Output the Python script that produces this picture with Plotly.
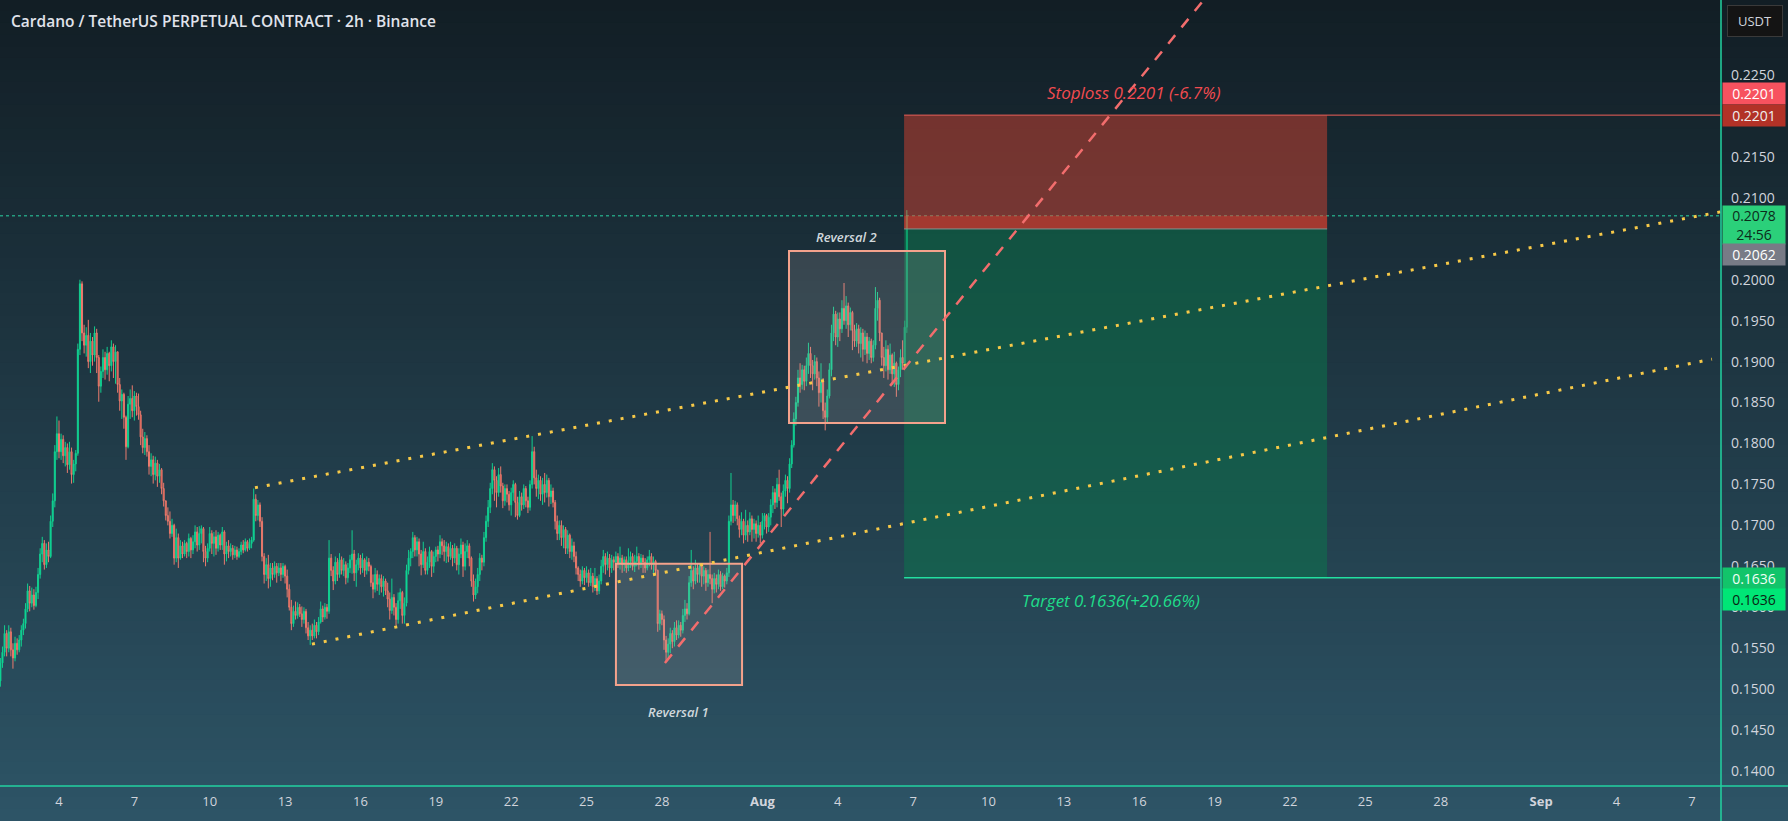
import pandas as pd
import plotly.graph_objects as go

# ADAUSDT perp, 2h candles (prices in 1e-4 USDT)
start = "2023-07-01 16:00"
first_open = 1510
close = [
    1532, 1545, 1568, 1550, 1570, 1548, 1538, 1556, 1548, 1560,
    1572, 1580, 1598, 1620, 1605, 1615, 1602, 1618, 1640, 1665,
    1678, 1652, 1670, 1662, 1705, 1730, 1790, 1812, 1790, 1805,
    1785, 1795, 1774, 1790, 1762, 1775, 1788, 1915, 1995, 1935,
    1920, 1932, 1900, 1925, 1908, 1935, 1905, 1870, 1888, 1905,
    1890, 1910, 1895, 1918, 1900, 1912, 1872, 1852, 1860, 1832,
    1796, 1848, 1855, 1840, 1858, 1845, 1835, 1808, 1795, 1806,
    1790, 1772, 1780, 1762, 1776, 1760, 1768, 1745, 1730, 1712,
    1705, 1690, 1700, 1660, 1685, 1660, 1675, 1665, 1678, 1668,
    1684, 1670, 1680, 1692, 1676, 1690, 1696, 1668, 1660, 1672,
    1690, 1678, 1686, 1672, 1688, 1676, 1692, 1665, 1675, 1668,
    1672, 1664, 1670, 1662, 1668, 1676, 1670, 1680, 1672, 1678,
    1682, 1732, 1712, 1725, 1705, 1662, 1640, 1652, 1635, 1648,
    1640, 1650, 1642, 1648, 1640, 1650, 1638, 1622, 1600, 1580,
    1595, 1590, 1600, 1592, 1585, 1595, 1575, 1565, 1572, 1565,
    1578, 1570, 1582, 1598, 1588, 1600, 1595, 1660, 1645, 1632,
    1655, 1640, 1658, 1645, 1652, 1636, 1648, 1658, 1665, 1642,
    1652, 1660, 1648, 1658, 1645, 1655, 1650, 1630, 1622, 1640,
    1628, 1635, 1625, 1632, 1620, 1610, 1596, 1612, 1600, 1585,
    1608, 1618, 1590, 1605, 1645, 1660, 1668, 1685, 1670, 1680,
    1665, 1652, 1668, 1645, 1655, 1668, 1650, 1662, 1670, 1665,
    1680, 1675, 1668, 1674, 1662, 1672, 1660, 1672, 1652, 1665,
    1676, 1650, 1668, 1675, 1660, 1632, 1615, 1625, 1640, 1660,
    1655, 1685, 1705, 1722, 1745, 1768, 1755, 1740, 1762, 1748,
    1730, 1745, 1738, 1725, 1740, 1750, 1728, 1712, 1735, 1725,
    1745, 1730, 1722, 1750, 1790, 1758, 1745, 1755, 1738, 1750,
    1740, 1755, 1735, 1742, 1728, 1705, 1690, 1700, 1685, 1695,
    1672, 1688, 1668, 1675, 1662, 1648, 1640, 1632, 1645, 1636,
    1642, 1630, 1638, 1625, 1635, 1620, 1632, 1650, 1662, 1652,
    1660, 1648, 1658, 1655, 1662, 1654, 1660, 1652, 1658, 1648,
    1656, 1662, 1650, 1656, 1662, 1652, 1660, 1655, 1648, 1658,
    1662, 1652, 1656, 1645, 1580, 1592, 1585, 1560, 1545, 1555,
    1568, 1558, 1575, 1566, 1578, 1572, 1590, 1598, 1592, 1630,
    1645, 1632, 1648, 1640, 1650, 1638, 1645, 1630, 1640, 1635,
    1622, 1635, 1628, 1640, 1625, 1638, 1632, 1642, 1705, 1725,
    1712, 1725, 1708, 1695, 1705, 1688, 1700, 1692, 1708, 1695,
    1702, 1690, 1700, 1688, 1705, 1712, 1698, 1710, 1725, 1740,
    1728, 1750, 1735, 1720, 1742, 1755, 1745, 1775, 1798, 1830,
    1850, 1880, 1872, 1890, 1876, 1895, 1910, 1895, 1885, 1900,
    1880, 1862, 1875, 1840, 1832, 1858, 1890, 1935, 1958, 1930,
    1952, 1940, 1965, 1950, 1968, 1945, 1960, 1938, 1925, 1940,
    1922, 1935, 1915, 1930, 1910, 1925, 1905, 1920, 1965, 1975,
    1935, 1905, 1895, 1915, 1890, 1908, 1885, 1898, 1872, 1890,
    1905, 1898, 1942, 2078,
]
high = [
    1538, 1552, 1578, 1572, 1578, 1575, 1556, 1564, 1562, 1566,
    1578, 1586, 1605, 1629, 1626, 1624, 1622, 1625, 1648, 1672,
    1686, 1682, 1678, 1680, 1712, 1739, 1798, 1833, 1828, 1812,
    1810, 1802, 1800, 1802, 1795, 1780, 1792, 1922, 2000, 1998,
    1945, 1942, 1951, 1935, 1930, 1943, 1940, 1908, 1894, 1915,
    1912, 1918, 1912, 1926, 1922, 1920, 1912, 1880, 1866, 1862,
    1834, 1858, 1866, 1871, 1864, 1862, 1861, 1840, 1818, 1814,
    1810, 1798, 1788, 1785, 1784, 1780, 1775, 1770, 1752, 1729,
    1722, 1717, 1708, 1702, 1696, 1690, 1682, 1680, 1682, 1680,
    1690, 1686, 1688, 1700, 1698, 1699, 1700, 1698, 1675, 1678,
    1698, 1694, 1692, 1694, 1692, 1690, 1698, 1694, 1680, 1682,
    1678, 1676, 1675, 1674, 1672, 1680, 1682, 1684, 1682, 1684,
    1686, 1745, 1738, 1731, 1728, 1710, 1666, 1660, 1664, 1654,
    1654, 1656, 1654, 1654, 1654, 1654, 1652, 1646, 1628, 1609,
    1602, 1607, 1606, 1604, 1601, 1600, 1598, 1582, 1578, 1580,
    1585, 1582, 1588, 1607, 1602, 1605, 1604, 1682, 1665, 1650,
    1662, 1660, 1666, 1662, 1660, 1656, 1654, 1664, 1694, 1670,
    1658, 1666, 1664, 1666, 1660, 1662, 1660, 1652, 1640, 1648,
    1645, 1640, 1640, 1638, 1635, 1630, 1618, 1635, 1616, 1605,
    1618, 1623, 1620, 1612, 1652, 1670, 1672, 1692, 1688, 1686,
    1684, 1670, 1680, 1672, 1662, 1674, 1670, 1668, 1674, 1675,
    1688, 1684, 1682, 1680, 1678, 1680, 1676, 1678, 1675, 1672,
    1684, 1680, 1678, 1682, 1678, 1662, 1640, 1635, 1648, 1666,
    1664, 1692, 1712, 1731, 1752, 1776, 1772, 1760, 1770, 1772,
    1752, 1750, 1750, 1742, 1746, 1755, 1752, 1735, 1742, 1740,
    1750, 1748, 1735, 1755, 1809, 1796, 1768, 1762, 1760, 1758,
    1764, 1762, 1758, 1750, 1746, 1731, 1712, 1706, 1706, 1700,
    1698, 1694, 1690, 1684, 1680, 1668, 1650, 1646, 1650, 1648,
    1650, 1646, 1648, 1642, 1648, 1638, 1640, 1658, 1670, 1666,
    1668, 1665, 1664, 1662, 1668, 1666, 1674, 1664, 1662, 1662,
    1672, 1668, 1666, 1664, 1674, 1666, 1665, 1664, 1660, 1662,
    1670, 1666, 1662, 1658, 1646, 1597, 1596, 1590, 1565, 1562,
    1575, 1572, 1582, 1584, 1584, 1582, 1598, 1609, 1605, 1638,
    1670, 1650, 1658, 1654, 1654, 1652, 1650, 1648, 1646, 1692,
    1640, 1642, 1640, 1646, 1644, 1642, 1640, 1648, 1712, 1764,
    1731, 1730, 1728, 1712, 1716, 1708, 1719, 1706, 1716, 1712,
    1708, 1706, 1712, 1704, 1715, 1715, 1714, 1715, 1732, 1748,
    1745, 1758, 1768, 1740, 1750, 1762, 1760, 1782, 1804, 1838,
    1857, 1890, 1898, 1896, 1895, 1905, 1923, 1918, 1902, 1908,
    1905, 1888, 1898, 1880, 1850, 1866, 1898, 1945, 1967, 1962,
    1960, 1960, 1975, 1996, 1980, 1972, 1966, 1962, 1945, 1947,
    1945, 1942, 1940, 1938, 1935, 1930, 1928, 1926, 1991, 1985,
    1978, 1935, 1918, 1926, 1920, 1922, 1910, 1912, 1900, 1894,
    1915, 1926, 1950, 2085,
]
low = [
    1503, 1526, 1540, 1540, 1545, 1540, 1525, 1534, 1542, 1545,
    1552, 1566, 1574, 1594, 1595, 1600, 1597, 1600, 1610, 1635,
    1655, 1646, 1648, 1655, 1660, 1698, 1722, 1780, 1782, 1780,
    1776, 1772, 1764, 1768, 1751, 1752, 1766, 1785, 1908, 1925,
    1910, 1906, 1892, 1886, 1895, 1900, 1886, 1851, 1862, 1880,
    1878, 1884, 1876, 1888, 1880, 1873, 1862, 1840, 1830, 1818,
    1780, 1794, 1830, 1832, 1828, 1834, 1829, 1798, 1788, 1786,
    1784, 1762, 1760, 1751, 1755, 1747, 1752, 1738, 1723, 1706,
    1700, 1684, 1686, 1652, 1655, 1648, 1658, 1660, 1662, 1660,
    1662, 1660, 1665, 1672, 1668, 1670, 1678, 1655, 1650, 1655,
    1668, 1665, 1662, 1664, 1668, 1670, 1670, 1652, 1656, 1660,
    1662, 1658, 1660, 1658, 1660, 1664, 1666, 1668, 1668, 1670,
    1672, 1680, 1705, 1706, 1698, 1656, 1629, 1632, 1623, 1625,
    1633, 1636, 1630, 1638, 1632, 1636, 1629, 1612, 1596, 1572,
    1576, 1585, 1586, 1588, 1576, 1580, 1568, 1560, 1554, 1560,
    1562, 1562, 1566, 1580, 1582, 1585, 1586, 1592, 1638, 1621,
    1628, 1632, 1636, 1640, 1638, 1628, 1630, 1642, 1641, 1632,
    1625, 1645, 1640, 1642, 1637, 1640, 1644, 1625, 1611, 1618,
    1620, 1615, 1618, 1613, 1615, 1600, 1585, 1592, 1590, 1578,
    1580, 1598, 1580, 1580, 1601, 1640, 1650, 1660, 1662, 1662,
    1650, 1639, 1648, 1640, 1640, 1648, 1637, 1642, 1655, 1656,
    1660, 1664, 1656, 1654, 1655, 1658, 1650, 1654, 1645, 1640,
    1660, 1637, 1645, 1660, 1650, 1625, 1607, 1610, 1617, 1632,
    1645, 1650, 1680, 1698, 1715, 1738, 1730, 1722, 1735, 1740,
    1721, 1724, 1728, 1718, 1712, 1730, 1710, 1707, 1710, 1718,
    1720, 1722, 1715, 1718, 1745, 1750, 1735, 1732, 1730, 1725,
    1728, 1734, 1723, 1726, 1722, 1695, 1682, 1682, 1675, 1672,
    1665, 1665, 1660, 1658, 1655, 1640, 1632, 1625, 1628, 1627,
    1630, 1625, 1626, 1618, 1620, 1615, 1616, 1628, 1642, 1640,
    1645, 1637, 1642, 1645, 1648, 1648, 1646, 1642, 1644, 1642,
    1644, 1648, 1645, 1643, 1650, 1646, 1648, 1642, 1642, 1645,
    1650, 1646, 1642, 1640, 1570, 1572, 1578, 1548, 1533, 1538,
    1544, 1550, 1552, 1560, 1562, 1564, 1568, 1582, 1585, 1590,
    1625, 1622, 1628, 1630, 1630, 1625, 1628, 1620, 1625, 1628,
    1605, 1617, 1618, 1622, 1620, 1622, 1624, 1628, 1637, 1700,
    1703, 1705, 1700, 1685, 1688, 1678, 1682, 1680, 1688, 1680,
    1684, 1680, 1685, 1678, 1684, 1695, 1690, 1692, 1700, 1715,
    1720, 1722, 1730, 1698, 1712, 1735, 1727, 1740, 1770, 1795,
    1822, 1845, 1862, 1866, 1865, 1870, 1885, 1880, 1865, 1878,
    1870, 1845, 1850, 1830, 1816, 1825, 1855, 1882, 1925, 1920,
    1918, 1925, 1935, 1945, 1940, 1930, 1938, 1914, 1918, 1918,
    1910, 1905, 1900, 1908, 1898, 1902, 1898, 1900, 1915, 1950,
    1925, 1895, 1880, 1888, 1878, 1885, 1872, 1869, 1857, 1865,
    1881, 1890, 1892, 1935,
]

# short position tool
stop_price = 0.2201
entry_price = 0.2062
target_price = 0.1636
last_price = 0.2078
last_timer = "24:56"

tick_dates = ["2023-07-04", "2023-07-07", "2023-07-10", "2023-07-13", "2023-07-16",
              "2023-07-19", "2023-07-22", "2023-07-25", "2023-07-28", "2023-08-01",
              "2023-08-04", "2023-08-07", "2023-08-10", "2023-08-13", "2023-08-16",
              "2023-08-19", "2023-08-22", "2023-08-25", "2023-08-28", "2023-09-01",
              "2023-09-04", "2023-09-07"]
tick_text = ["4", "7", "10", "13", "16", "19", "22", "25", "28", "<b>Aug</b>",
             "4", "7", "10", "13", "16", "19", "22", "25", "28", "<b>Sep</b>",
             "4", "7"]
# price scale labels (0.2200 and 0.2050 sit fully under the price tags)
price_ticks = [0.1400, 0.1450, 0.1500, 0.1550, 0.1600, 0.1650, 0.1700, 0.1750, 0.1800,
               0.1850, 0.1900, 0.1950, 0.2000, 0.2100, 0.2150, 0.2250]

t = pd.date_range(start, periods=len(close), freq="2h")
c = [v / 10000 for v in close]
o = [first_open / 10000] + c[:-1]
h = [v / 10000 for v in high]
l = [v / 10000 for v in low]

W, H = 1788, 821
PW, PH = 1721, 786          # plot area in px
FONT = "Open Sans"
x_end = "2023-09-08 03:50"

fig = go.Figure()
fig.add_trace(go.Candlestick(
    x=t, open=o, high=h, low=l, close=c,
    increasing=dict(line=dict(color="#12cf8f", width=1), fillcolor="#00e5a8"),
    decreasing=dict(line=dict(color="#ea7b6e", width=1), fillcolor="#d6392c"),
    whiskerwidth=0, hoverinfo="skip", showlegend=False,
))

shapes = []
# background gradient
n = 70
top, bot = (18, 30, 37), (45, 84, 102)
y_low = -(H - PH) / PH
for i in range(n):
    f = i / (n - 1)
    col = tuple(round(top[k] + (bot[k] - top[k]) * f) for k in range(3))
    y1 = 1 - (1 - y_low) * i / n
    y0 = 1 - (1 - y_low) * (i + 1) / n
    shapes.append(dict(type="rect", xref="paper", yref="paper", x0=-0.01, x1=W / PW + 0.01,
                       y0=y0 - 0.001, y1=y1 + 0.001, fillcolor="rgb(%d,%d,%d)" % col,
                       line=dict(width=0), layer="below"))

# current price dotted line
shapes.append(dict(type="line", xref="paper", yref="y", x0=0, x1=1, y0=last_price, y1=last_price,
                   line=dict(color="#2bd4a4", width=1, dash="dot")))

# position boxes
bx0, bx1 = "2023-08-06 15:22", "2023-08-23 11:31"
shapes += [
    dict(type="rect", xref="x", yref="y", x0=bx0, x1=bx1, y0=entry_price, y1=stop_price,
         fillcolor="rgba(231,69,48,0.45)", line=dict(width=0)),
    dict(type="rect", xref="x", yref="y", x0=bx0, x1=bx1, y0=entry_price, y1=last_price,
         fillcolor="rgba(220,60,45,0.45)", line=dict(width=0)),
    dict(type="rect", xref="x", yref="y", x0=bx0, x1=bx1, y0=target_price, y1=entry_price,
         fillcolor="rgba(10,120,75,0.5)", line=dict(width=0)),
    dict(type="line", xref="x", yref="y", x0=bx0, x1=x_end, y0=stop_price, y1=stop_price,
         line=dict(color="#f0605a", width=1)),
    dict(type="line", xref="x", yref="y", x0=bx0, x1=x_end, y0=target_price, y1=target_price,
         line=dict(color="#22e0a0", width=1.5)),
    dict(type="line", xref="x", yref="y", x0=bx0, x1=bx1, y0=entry_price, y1=entry_price,
         line=dict(color="#7f9490", width=1)),
]

# reversal boxes
for x0, x1, y0, y1 in [("2023-07-26 04:05", "2023-07-31 04:34", 0.1505, 0.1653),
                       ("2023-08-02 01:26", "2023-08-08 06:28", 0.1825, 0.2035)]:
    shapes.append(dict(type="rect", xref="x", yref="y", x0=x0, x1=x1, y0=y0, y1=y1,
                       fillcolor="rgba(190,180,180,0.18)", line=dict(color="#f4a28c", width=2)))

# channel and trend lines
dots = dict(color="#f7c948", width=3, dash="3px,9px")
shapes += [
    dict(type="line", xref="x", yref="y", x0="2023-07-11 19:14", y0=0.1746, x1=x_end, y1=0.2083, line=dots),
    dict(type="line", xref="x", yref="y", x0="2023-07-14 01:41", y0=0.1555, x1="2023-09-07 19:12", y1=0.1903, line=dots),
    dict(type="line", xref="x", yref="y", x0="2023-07-28 02:53", y0=0.1532, x1="2023-08-18 13:55", y1=0.2342,
         line=dict(color="#f26d6d", width=2.5, dash="11px,10px")),
]

# frame
frame = "#22d3a0"
shapes += [
    dict(type="line", xref="paper", yref="paper", x0=1, x1=1, y0=y_low, y1=1, line=dict(color=frame, width=1.5)),
    dict(type="line", xref="paper", yref="paper", x0=0, x1=W / PW, y0=0, y1=0, line=dict(color=frame, width=1.5)),
]

ann = []


def py(px):
    return 1 - px / PH


def tag(y_px, text, bg, fg, hgt=17):
    ann.append(dict(xref="paper", yref="paper", x=1722 / PW, y=py(y_px), xanchor="left", yanchor="middle",
                    text=text, showarrow=False, bgcolor=bg, width=58, height=hgt, borderpad=2,
                    font=dict(family=FONT, size=14, color=fg)))


ann.append(dict(xref="paper", yref="paper", x=9 / PW, y=py(21), xanchor="left", yanchor="middle",
                text="Cardano / TetherUS PERPETUAL CONTRACT · 2h · Binance", showarrow=False,
                font=dict(family=FONT, size=15.5, color="#e0e3eb", weight=600)))
ann.append(dict(xref="paper", yref="paper", x=1727 / PW, y=py(21), xanchor="left", yanchor="middle",
                text="USDT", showarrow=False, bgcolor="#141414", bordercolor="#3a3a3a", borderwidth=1,
                width=50, height=26, borderpad=2, font=dict(family=FONT, size=13, color="#d1d4dc")))
tag(93, f"{stop_price:.4f}", "#f7525f", "#ffffff")
tag(116, f"{stop_price:.4f}", "#b23227", "#f0f0f0")
tag(224.5, f"{last_price:.4f}<br>{last_timer}", "#2bd07a", "#0b2b1a", hgt=34)
tag(254.5, f"{entry_price:.4f}", "#787b86", "#ffffff")
tag(578, f"{target_price:.4f}", "#12c46a", "#f0fff6")
tag(599, f"{target_price:.4f}", "#00e676", "#0b1f14")

stop_pct = (stop_price - entry_price) / entry_price * 100
tgt_pct = (entry_price - target_price) / entry_price * 100
ann += [
    dict(x="2023-08-15 19:00", y=0.22292, text=f"<i>Stoploss {stop_price:.4f} (-{stop_pct:.1f}%)</i>",
         showarrow=False, font=dict(family=FONT, size=17, color="#f24b50")),
    dict(x="2023-08-14 21:07", y=0.16088, text=f"<i>Target {target_price:.4f}(+{tgt_pct:.2f}%)</i>",
         showarrow=False, font=dict(family=FONT, size=17, color="#1fdc8a")),
    dict(x="2023-07-28 16:19", y=0.14720, text="<i>Reversal 1</i>", showarrow=False,
         font=dict(family=FONT, size=13, color="#d0d8dc", weight=600)),
    dict(x="2023-08-04 07:55", y=0.20522, text="<i>Reversal 2</i>", showarrow=False,
         font=dict(family=FONT, size=13, color="#d0d8dc", weight=600)),
]

fig.update_layout(
    width=W, height=H,
    margin=dict(l=0, r=W - PW, t=0, b=H - PH),
    paper_bgcolor="#121e25", plot_bgcolor="rgba(0,0,0,0)",
    shapes=shapes, annotations=ann, showlegend=False,
    xaxis=dict(type="date", range=["2023-07-01 15:38", x_end], rangeslider=dict(visible=False),
               tickmode="array", tickvals=tick_dates, ticktext=tick_text, showgrid=False,
               zeroline=False, showline=False, ticks="", ticklabelstandoff=6,
               tickfont=dict(family=FONT, size=13, color="#d1d4dc")),
    yaxis=dict(side="right", range=[0.13817, 0.23416], tickmode="array", tickvals=price_ticks,
               tickformat=".4f", showgrid=False, zeroline=False, showline=False, ticks="",
               ticklabelstandoff=9, tickfont=dict(family=FONT, size=14, color="#d1d4dc")),
)

fig.write_html("out.html", config={"displayModeBar": False},
               post_script="document.body.style.margin='0';document.body.style.overflow='hidden';")
